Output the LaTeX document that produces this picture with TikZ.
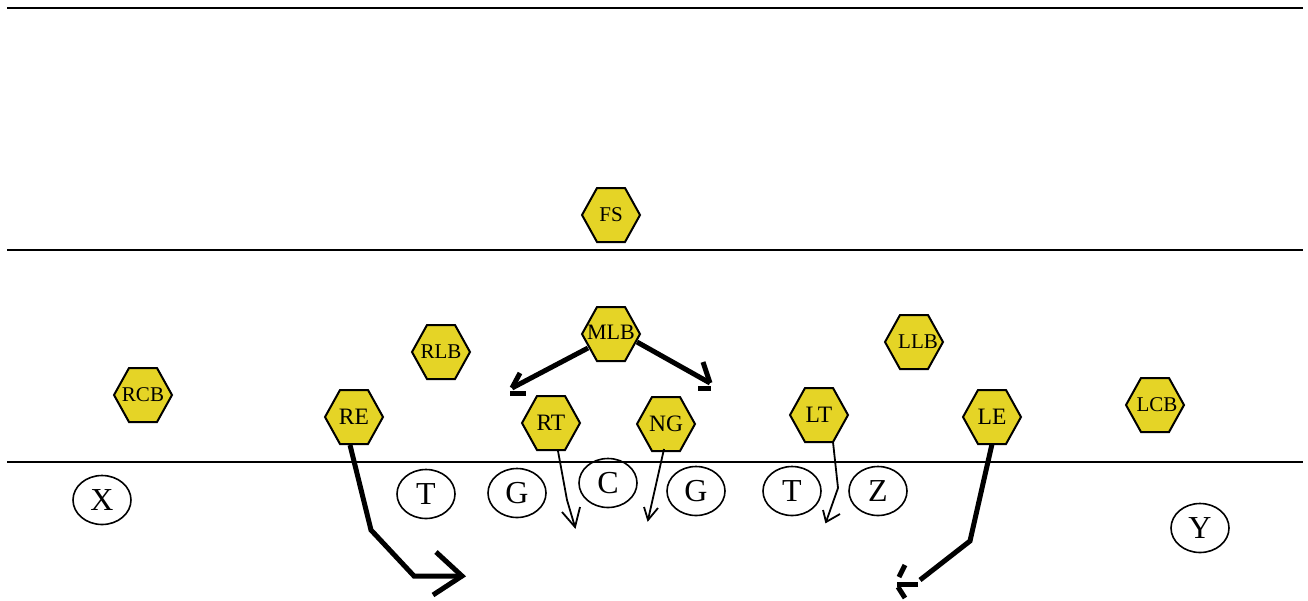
\documentclass[tikz,border=0pt]{standalone}
\usepackage{fontspec}
\setmainfont{Liberation Serif}
\usetikzlibrary{calc,shapes.geometric}
\definecolor{hexyellow}{RGB}{229,212,38}
\newcommand\hexplayer[5]{%
  \draw[hexshape] (#2-29,#3) -- (#2-14,#3-27) -- (#2+14,#3-27) -- (#2+29,#3) -- (#2+14,#3+27) -- (#2-14,#3+27) -- cycle;
  \node[#4] (#1) at (#2,#3) {#5};}
\begin{document}
\begin{tikzpicture}[x=1pt,y=-1pt,
  field/.style={line width=2.4pt},
  hexshape/.style={fill=hexyellow,draw=black,line width=2pt,line join=miter},
  hexsmall/.style={font=\fontsize{21}{21}\selectfont,inner sep=0pt,minimum width=58pt,minimum height=54pt},
  hexlarge/.style={font=\fontsize{23.5}{23.5}\selectfont,inner sep=0pt,minimum width=58pt,minimum height=54pt},
  offense/.style={draw=black,line width=1.6pt,ellipse,minimum width=58pt,minimum height=49pt,inner sep=0pt,font=\fontsize{32}{32}\selectfont},
  heavy/.style={line width=5pt},
  light/.style={line width=1.8pt},
]
\useasboundingbox (0,0) rectangle (1308,600);
% field lines
\coordinate (l1a) at (7,8);   \coordinate (l1b) at (1303,8);
\coordinate (l2a) at (7,250); \coordinate (l2b) at (1303,250);
\coordinate (l3a) at (7,462); \coordinate (l3b) at (1303,462);
\draw[field] (l1a) -- (l1b);
\draw[field] (l2a) -- (l2b);
\draw[field] (l3a) -- (l3b);
% defense
\hexplayer{fs}{611}{215}{hexsmall}{FS}
\hexplayer{mlb}{611}{334}{hexsmall,font=\fontsize{22}{22}\selectfont,yshift=2pt}{MLB}
\hexplayer{rlb}{441}{352}{hexsmall}{RLB}
\hexplayer{llb}{914}{342}{hexsmall,xshift=4pt}{LLB}
\hexplayer{rcb}{143}{395}{hexsmall}{RCB}
\hexplayer{lcb}{1155}{405}{hexsmall,xshift=2pt}{LCB}
\hexplayer{re}{354}{417}{hexlarge}{RE}
\hexplayer{rt}{551}{423}{hexlarge}{RT}
\hexplayer{ng}{666}{424}{hexlarge}{NG}
\hexplayer{lt}{819}{415}{hexlarge}{LT}
\hexplayer{le}{992}{417}{hexlarge}{LE}
% offense
\node[offense] (x)  at (102,500) {X};
\node[offense] (t1) at (426,494) {T};
\node[offense] (g1) at (517,493) {G};
\node[offense] (c)  at (608,483) {C};
\node[offense] (g2) at (696,491) {G};
\node[offense] (t2) at (792,491) {T};
\node[offense] (z)  at (878,491) {Z};
\node[offense] (y)  at (1200,528) {Y};
% RE route
\coordinate (reA) at (371,530);
\coordinate (reB) at (414,576);
\coordinate (reC) at (462,576);
\draw[heavy] ($(re)+(-4,28)$) -- (reA) -- (reB) -- (reC);
\draw[heavy] (436,552) -- (reC) -- (433,595);
% MLB drops
\coordinate (mlbL) at (512,388);
\coordinate (mlbR) at (710,383);
\draw[heavy] ($(mlb)+(-23,16)$) -- (mlbL);
\draw[heavy] (520,373) -- (mlbL);
\draw[heavy] (510,393) -- (526,393);
\draw[heavy] ($(mlb)+(26,10)$) -- (mlbR);
\draw[heavy] (703,362) -- (mlbR);
\draw[heavy] (698,388) -- (711,388);
% RT
\coordinate (rtA) at (567,500);
\coordinate (rtB) at (575,527);
\draw[light] ($(rt)+(7,28)$) -- (rtA) -- (rtB);
\draw[light] (562,512) -- (rtB) -- (580,507);
% NG
\coordinate (ngB) at (648,520);
\draw[light] ($(ng)+(-2,25)$) -- (ngB);
\draw[light] (644,507) -- (ngB) -- (658,508);
% LT
\coordinate (ltA) at (838,488);
\coordinate (ltB) at (826,522);
\draw[light] ($(lt)+(14,27)$) -- (ltA) -- (ltB);
\draw[light] (823,510) -- (ltB) -- (840,514);
% LE route
\coordinate (leA) at (970,541);
\coordinate (leB) at (920,580);
\draw[heavy] ($(le)+(0,27)$) -- (leA) -- (leB);
\draw[heavy] (905,565) -- (899,577);
\draw[heavy] (897,584) -- (918,584);
\draw[heavy] (898,587) -- (905,598);
\end{tikzpicture}
\end{document}
